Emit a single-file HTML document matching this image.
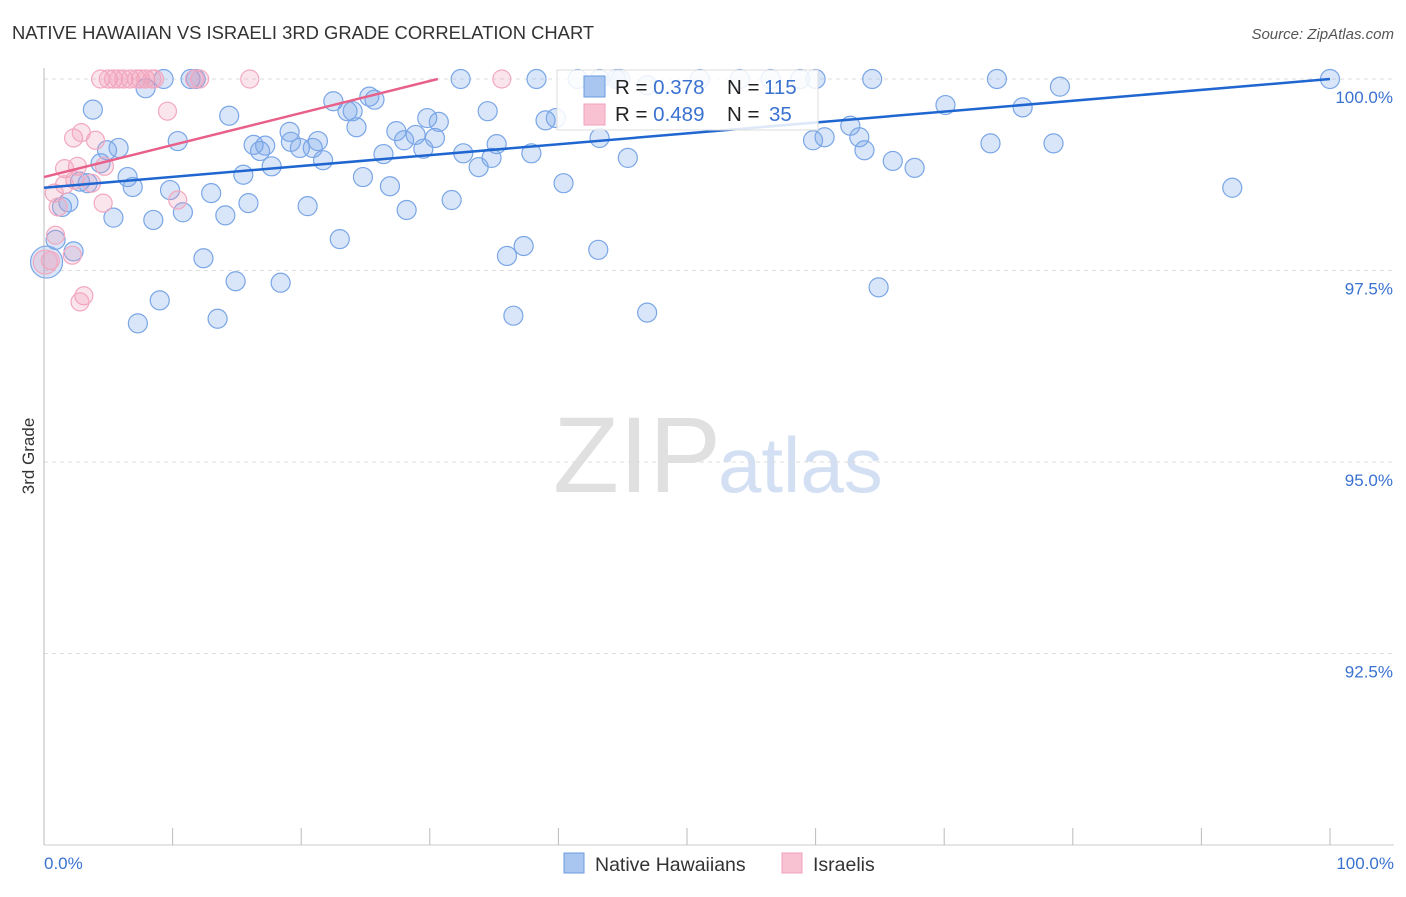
<!DOCTYPE html>
<html><head><meta charset="utf-8"><style>
body{margin:0;background:#fff;font-family:"Liberation Sans",sans-serif}
svg text{font-family:"Liberation Sans",sans-serif}
</style></head><body>
<svg id="c" width="1406" height="892">
<text x="12" y="39" font-size="18.4" fill="#333">NATIVE HAWAIIAN VS ISRAELI 3RD GRADE CORRELATION CHART</text>
<text x="1394" y="39" font-size="15" fill="#555" text-anchor="end" font-style="italic">Source: ZipAtlas.com</text>
<text x="553" y="492" font-size="108" fill="#e0e0e0" font-family="Liberation Serif">ZIP</text>
<text x="718" y="492" font-size="78" fill="#d3dff3">atlas</text>
<g id="grid"></g><g id="pts"></g><g id="lines"></g>
<text transform="translate(34,456) rotate(-90)" font-size="17" fill="#333" text-anchor="middle">3rd Grade</text>
<text x="44" y="869" font-size="17" fill="#3a72d0">0.0%</text>
<text x="1394" y="869" font-size="17" fill="#3a72d0" text-anchor="end">100.0%</text>
<g>
<rect x="557" y="70" width="261" height="60" fill="#fff" fill-opacity="0.85" stroke="#ddd"/>
<rect x="584" y="76" width="21" height="21" fill="#a9c6f0" stroke="#6b9be0"/>
<rect x="584" y="104" width="21" height="21" fill="#f8c2d2" stroke="#f0a0bc"/>
<text x="615" y="94" font-size="20.5" fill="#222">R = <tspan fill="#3a72d0">0.378</tspan><tspan x="727">N = </tspan><tspan fill="#3a72d0" x="764">115</tspan></text>
<text x="615" y="121" font-size="20.5" fill="#222">R = <tspan fill="#3a72d0">0.489</tspan><tspan x="727">N = </tspan><tspan fill="#3a72d0" x="769">35</tspan></text>
</g>
<g>
<rect x="564" y="853" width="20" height="20" fill="#a9c6f0" stroke="#6b9be0"/>
<text x="595" y="871" font-size="19.5" fill="#333">Native Hawaiians</text>
<rect x="782" y="853" width="20" height="20" fill="#f8c2d2" stroke="#f0a0bc"/>
<text x="813" y="871" font-size="19.5" fill="#333">Israelis</text>
</g>
</svg>
<script>
const yTicks=[100,97.5,95,92.5];
const yTickLabels=["100.0%","97.5%","95.0%","92.5%"];
const blueX=[0.2,0.9,1.4,1.9,2.3,2.8,3.4,3.8,4.4,4.9,5.4,5.8,6.5,6.9,7.3,7.9,8.5,9.0,9.3,9.8,10.4,10.8,11.4,11.8,12.4,13.0,13.5,14.1,14.4,14.9,15.5,15.9,16.3,16.8,17.2,17.7,18.4,19.1,19.2,19.9,20.5,20.9,21.3,21.7,22.5,23.0,23.6,24.0,24.3,24.8,25.3,25.7,26.4,26.9,27.4,28.0,28.2,28.9,29.5,29.8,30.4,30.7,31.7,32.4,32.6,33.8,34.5,34.8,35.2,36.0,36.5,37.3,37.9,38.3,39.0,39.8,40.4,41.5,43.1,43.2,44.5,45.4,46.9,46.9,43.2,44.8,51.0,54.1,56.5,58.8,60.0,59.8,60.7,62.7,63.4,63.8,64.4,64.9,66.0,67.7,70.1,73.6,74.1,76.1,78.5,79.0,92.4,100];
const blueY=[97.61,97.90,98.33,98.39,97.75,98.66,98.64,99.60,98.90,99.07,98.19,99.10,98.72,98.59,96.81,99.88,98.16,97.11,100,98.55,99.19,98.26,100,100,97.66,98.51,96.87,98.22,99.52,97.36,98.75,98.38,99.14,99.06,99.13,98.86,97.34,99.31,99.18,99.10,98.34,99.10,99.19,98.94,99.71,97.91,99.58,99.58,99.37,98.72,99.77,99.73,99.02,98.60,99.32,99.20,98.29,99.27,99.09,99.49,99.23,99.44,98.42,100,99.03,98.85,99.58,98.97,99.15,97.69,96.91,97.82,99.03,100,99.46,99.49,98.64,100,97.77,99.23,100,98.97,96.95,99.92,100,100,100,100,100,100,100,99.20,99.24,99.39,99.24,99.07,100,97.28,98.93,98.84,99.66,99.16,100,99.63,99.16,99.90,98.58,100];
const pinkX=[4.4,5.0,5.4,5.8,6.2,6.7,7.2,7.5,7.9,8.4,8.6,11.7,12.1,16.0,35.6,9.6,2.3,2.9,4.0,2.6,1.6,4.7,1.6,2.4,3.7,0.8,1.1,4.6,10.4,0.9,2.2,0.5,0.1,3.1,2.8];
const pinkY=[100,100,100,100,100,100,100,100,100,100,100,100,100,100,100,99.58,99.23,99.30,99.20,98.86,98.83,98.86,98.62,98.68,98.64,98.51,98.33,98.38,98.42,97.96,97.70,97.63,97.61,97.17,97.09];
const blueTrend=[98.58,100.0];
const pinkTrend=[98.72,0.0418];
const X=v=>44+v*12.86, Y=v=>79+(100-v)*76.6;
const NS="http://www.w3.org/2000/svg";
function mk(t,a,p){const e=document.createElementNS(NS,t);for(const k in a)e.setAttribute(k,a[k]);p.appendChild(e);return e;}
const grid=document.getElementById('grid');
yTicks.forEach((t,i)=>{
 const l=mk('line',{x1:44,x2:1394,y1:Y(t),y2:Y(t),stroke:'#ddd','stroke-dasharray':'4,4'},grid);
 
 
 const tx=mk('text',{x:1393,y:Y(t)+24,'font-size':17,fill:'#3a72d0','text-anchor':'end'},grid);
 tx.textContent=yTickLabels[i];
 
 
});
const ax=mk('line',{x1:44,x2:44,y1:68,y2:845,stroke:'#bbb'},grid);


const bx=mk('line',{x1:44,x2:1394,y1:845,y2:845,stroke:'#ccc'},grid);


for(let i=0;i<=10;i++){const t=mk('line',{x1:X(i*10),x2:X(i*10),y1:828,y2:845,stroke:'#bbb'},grid);
 
 }
const pts=document.getElementById('pts');
blueX.forEach((v,i)=>{const c=mk('circle',{cx:X(v),cy:Y(blueY[i]),r:i==0?16:9.5,fill:'rgba(120,165,235,0.28)',stroke:'#7aa6e6','stroke-width':1.2},pts);
 
 });
pinkX.forEach((v,i)=>{const c=mk('circle',{cx:X(v),cy:Y(pinkY[i]),r:i==32?12:9,fill:'rgba(240,150,180,0.25)',stroke:'#f2a8c0','stroke-width':1.2},pts);
 
 });
const lines=document.getElementById('lines');
const bl=mk('line',{x1:X(0),y1:Y(blueTrend[0]),x2:X(100),y2:Y(blueTrend[1]),stroke:'#1f66d1','stroke-width':2.5},lines);


const xe=(100-pinkTrend[0])/pinkTrend[1];
const pl=mk('line',{x1:X(0),y1:Y(pinkTrend[0]),x2:X(xe),y2:Y(100),stroke:'#e8608a','stroke-width':2.5},lines);


</script>
</body></html>
